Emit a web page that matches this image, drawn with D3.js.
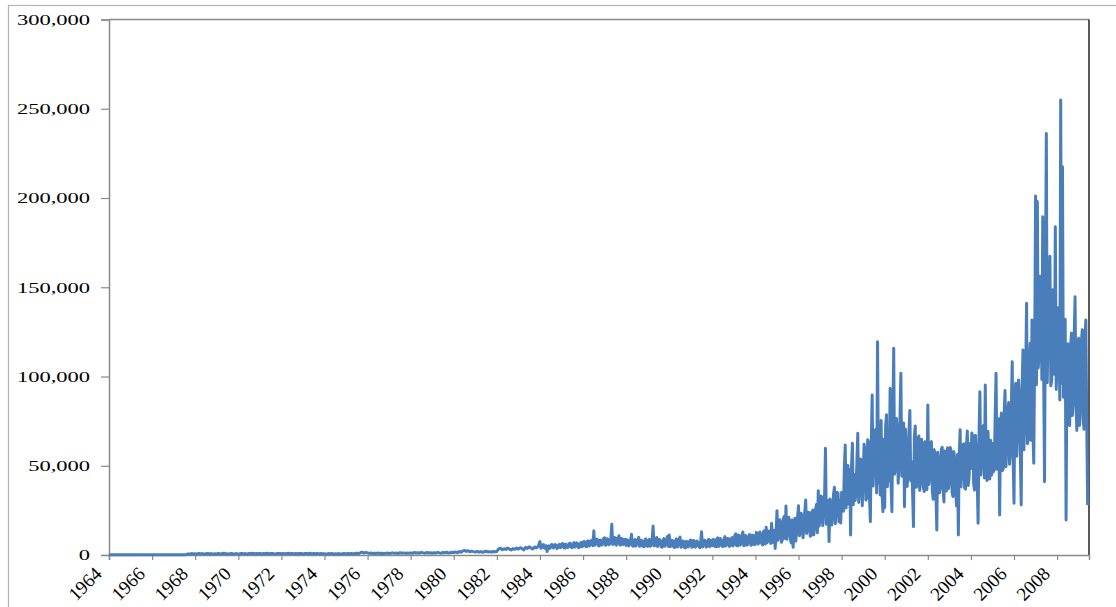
<!DOCTYPE html>
<html>
<head>
<meta charset="utf-8">
<script src="https://cdn.jsdelivr.net/npm/d3@7"></script>
<style>
  body { margin: 0; background: #ffffff; }
  svg { display: block; }
</style>
</head>
<body>
<svg id="chart" width="1116" height="607"></svg>
<script>
// Monthly series from January 1964, values in thousands
const startYear = 1964;

const thousands1964to1973 = [
  0.1,0.1,0.1,0.1,0.1,0.1,0.1,0.1,0.1,0.1,0.1,0.1,
  0.1,0.1,0.1,0.1,0.1,0.1,0.1,0.1,0.1,0.1,0.1,0.1,
  0.1,0.1,0.1,0.1,0.2,0.1,0.1,0.1,0.2,0.1,0.1,0.1,
  0.1,0.2,0.1,0.1,0.2,0.1,0.2,0.3,0.6,0.5,0.8,0.6,
  0.7,0.5,0.9,0.6,0.8,0.5,0.7,0.9,0.6,0.8,0.5,0.7,
  0.6,0.9,0.5,0.8,1.0,0.6,0.7,0.5,0.9,0.7,0.6,0.8,
  0.5,0.7,0.9,0.6,0.8,0.5,0.9,0.7,1.0,0.6,0.8,0.7,
  0.9,0.6,0.8,0.7,1.0,0.6,0.8,0.9,0.6,0.7,0.9,0.8,
  0.7,0.9,0.6,0.8,1.0,0.7,0.9,0.6,0.8,0.7,0.9,0.8,
  0.6,0.8,0.9,0.7,1.0,0.6,0.8,0.7,0.9,0.6,0.8,0.7
];

const thousands1974to1983 = [
  0.7,0.5,0.8,0.6,0.9,0.4,0.7,0.6,0.8,0.5,0.7,0.9,
  0.6,0.8,0.7,0.9,0.6,0.8,1.0,0.7,1.3,1.6,1.1,1.5,
  1.2,0.9,1.1,0.8,1.0,0.9,1.1,0.8,1.0,0.7,0.9,1.1,
  0.8,1.0,1.2,0.9,1.1,0.8,1.3,1.0,1.2,0.9,1.1,1.0,
  1.2,0.9,1.4,1.1,1.3,1.0,1.5,1.2,1.0,1.4,1.1,1.3,
  1.0,1.3,1.1,1.5,1.2,1.0,1.4,1.2,1.6,1.1,1.3,1.5,
  1.4,1.7,1.3,1.9,1.6,2.3,2.6,2.0,2.4,1.8,2.2,1.9,
  1.7,2.0,1.6,1.9,1.5,1.8,2.1,1.7,1.9,1.6,2.0,1.8,
  2.0,3.4,3.8,2.9,3.5,3.1,3.9,3.3,2.8,3.6,3.2,3.9,
  3.3,4.1,3.6,2.9,4.3,3.7,4.6,3.9,3.4,4.5,4.0,4.8
];

const thousands1984to1993 = [
  7.5,4.2,5.9,3.6,2.0,5.1,4.3,5.8,4.6,5.5,3.9,6.0,
  4.5,6.2,3.8,5.6,4.8,6.5,4.1,6.9,5.0,6.3,4.4,7.1,
  5.2,7.4,4.6,7.9,5.8,8.3,13.6,6.4,8.6,5.1,8.2,6.7,
  9.6,5.9,8.8,6.7,17.2,6.2,9.5,7.1,10.8,5.6,8.9,7.0,
  5.3,8.1,6.2,11.6,4.9,8.7,6.6,9.9,5.1,7.6,4.6,9.0,
  4.8,8.8,6.0,16.2,5.3,9.8,6.4,8.1,4.4,9.2,5.7,10.4,
  11.2,5.1,7.8,4.2,9.0,5.8,10.1,4.7,7.6,4.0,7.3,5.5,
  8.4,4.5,7.9,5.3,7.1,4.1,13.0,5.7,8.2,4.9,8.8,6.1,
  5.2,8.5,4.6,9.6,5.6,8.0,4.8,10.3,6.0,9.1,5.3,9.8,
  6.2,11.8,5.1,10.6,6.6,12.9,5.4,10.1,7.0,11.4,5.8,10.9
];

const thousands1994to2003 = [
  6.3,12.2,7.4,11.0,5.6,13.5,15.5,8.2,12.6,17.8,9.4,3.7,
  24.8,10.5,18.2,8.6,21.5,27.4,12.8,19.4,6.7,4.3,20.6,14.2,
  27.6,12.5,21.3,16.0,30.8,14.6,23.7,10.9,25.2,17.4,28.3,36.0,
  20.6,32.4,24.1,59.8,18.0,7.5,29.5,22.8,38.0,26.3,34.7,30.1,
  35.2,24.6,61.6,40.8,28.5,11.2,62.6,45.3,33.9,68.2,38.4,52.1,
  44.6,58.3,31.9,63.4,18.7,89.6,52.2,70.5,119.5,62.8,75.4,24.3,
  26.5,78.6,62.5,93.4,24.3,115.8,48.6,68.9,52.7,101.8,58.3,27.0,
  60.8,45.2,81.0,52.4,15.9,72.3,38.5,66.7,42.1,61.5,35.6,58.4,
  84.0,44.3,63.5,31.2,56.8,14.0,52.6,38.9,60.3,29.7,47.5,60.1,
  41.6,58.2,32.8,52.4,27.5,11.2,70.1,48.7,62.3,36.9,69.5,43.8
];

const thousands2004to2009 = [
  48.5,66.2,36.4,58.9,17.8,91.5,52.3,72.6,95.2,41.7,55.8,64.3,
  62.4,47.6,101.8,55.4,22.4,79.5,48.3,92.1,61.7,85.4,58.2,108.3,
  29.0,96.2,72.4,88.5,28.0,114.8,76.3,141.0,65.2,118.6,131.6,51.4,
  201.1,198.0,112.6,150.4,189.5,41.1,236.2,128.4,167.3,97.8,142.6,183.9,
  108.3,124.6,254.9,217.5,96.4,19.6,118.4,72.5,124.3,86.2,144.7,69.8,
  121.5,84.7,126.2,70.4,131.6,28.0
];

// Mid-month readings (thousands), January 1984 through May 2009
const midMonth1984to1993 = [
  3.8,5.6,3.9,5.2,4.8,3.7,5.9,3.9,5.8,3.6,5.7,4.1,
  6.4,4.0,6.1,4.2,6.6,4.3,6.2,4.5,6.8,4.1,6.5,4.6,
  7.6,4.8,7.8,5.0,8.1,5.2,5.4,8.9,5.3,8.4,5.6,9.3,
  5.4,9.1,5.8,9.4,5.9,9.8,5.5,9.6,5.7,9.2,5.9,8.8,
  8.6,5.1,8.4,5.3,8.2,5.0,8.7,4.9,8.3,4.8,8.5,5.2,
  8.2,4.9,8.6,5.1,8.4,4.7,8.8,4.6,8.1,4.9,8.5,4.8,
  4.6,8.3,4.4,8.0,4.5,8.2,4.3,7.9,4.2,7.7,4.5,8.1,
  4.3,8.1,4.4,7.8,4.6,7.9,4.5,8.3,4.4,8.0,4.7,8.2,
  8.7,4.8,9.0,4.7,9.2,4.9,8.8,5.0,9.3,4.8,9.1,5.1,
  10.8,5.3,11.2,5.5,11.0,5.2,10.9,5.6,11.3,5.4,11.1,5.7
];

const midMonth1994to2003 = [
  12.6,6.1,12.9,6.4,13.2,6.2,6.8,13.4,6.5,7.0,13.8,12.5,
  8.2,19.8,7.1,20.4,9.3,8.8,21.2,8.4,19.6,18.3,7.8,21.6,
  10.8,23.4,9.6,24.8,12.1,23.9,10.5,24.2,11.3,25.6,12.4,16.2,
  33.1,16.4,32.8,17.2,30.6,31.4,16.8,34.2,17.5,35.1,18.6,17.9,
  24.8,48.6,26.3,50.2,47.9,49.4,28.1,30.5,52.6,29.4,53.8,27.6,
  62.1,30.8,64.5,33.2,60.8,38.6,68.4,34.7,40.2,33.6,35.1,64.8,
  72.4,38.2,41.5,40.6,71.8,45.3,76.5,40.2,77.6,44.1,73.9,70.6,
  38.4,68.7,41.6,35.8,66.2,37.9,65.4,36.2,64.8,38.1,63.5,36.6,
  39.5,62.8,36.1,58.9,35.4,57.6,34.8,59.2,36.5,58.3,35.9,37.2,
  60.2,35.1,57.8,36.4,56.3,55.9,38.2,61.4,37.5,60.7,38.9,62.5
];

const midMonth2004to2009 = [
  68.4,40.2,67.1,42.5,66.3,44.8,70.6,43.1,45.9,69.2,42.6,44.7,
  46.5,77.8,48.1,76.4,72.9,47.2,78.6,49.5,80.3,50.8,82.1,54.6,
  92.4,55.3,98.1,57.8,94.6,58.9,101.5,62.4,104.2,64.3,70.8,112.5,
  95.4,104.8,156.2,98.3,102.6,152.8,96.5,151.4,94.8,148.6,101.2,92.7,
  138.5,86.9,96.2,88.4,132.1,110.6,74.3,116.8,78.2,121.5,84.6,118.2,
  72.6,118.9,76.1,122.4,74.8
];

const yTickValues = [0, 50000, 100000, 150000, 200000, 250000, 300000];
const xTickYears = d3.range(1964, 2009, 2);

const monthly = [].concat(
  thousands1964to1973, thousands1974to1983, thousands1984to1993,
  thousands1994to2003, thousands2004to2009
);
const midMonth = [].concat(midMonth1984to1993, midMonth1994to2003, midMonth2004to2009);
const midStart = (1984 - startYear) * 12;

const series = [];
monthly.forEach((v, i) => {
  const t = startYear + i / 12;
  series.push({ t, value: v * 1000 });
  const j = i - midStart;
  if (j >= 0 && j < midMonth.length) {
    series.push({ t: t + 1 / 24, value: midMonth[j] * 1000 });
  }
});

const svg = d3.select("#chart");
const plot = { left: 109, right: 1089, top: 19.5, bottom: 555 };
const serif = "'Liberation Serif', 'Times New Roman', serif";

const x = d3.scaleLinear().domain([1964, 2009.48]).range([plot.left, plot.right]);
const y = d3.scaleLinear().domain([0, 300000]).range([plot.bottom, plot.top]);

// outer frame
svg.append("rect")
  .attr("x", 8.5).attr("y", 5.5)
  .attr("width", 1120).attr("height", 620)
  .attr("fill", "none").attr("stroke", "#b4b4b4").attr("stroke-width", 1.2);

// plot border: top gray, right dark
svg.append("line")
  .attr("x1", plot.left).attr("x2", plot.right)
  .attr("y1", plot.top).attr("y2", plot.top)
  .attr("stroke", "#8a8a8a").attr("stroke-width", 1.5);
svg.append("line")
  .attr("x1", plot.right).attr("x2", plot.right)
  .attr("y1", plot.top).attr("y2", plot.bottom)
  .attr("stroke", "#222").attr("stroke-width", 1.5);

// y axis
const yAxis = d3.axisLeft(y).tickValues(yTickValues).tickSize(8).tickFormat("");
const gy = svg.append("g").attr("transform", `translate(${plot.left},0)`).call(yAxis);
gy.select(".domain").attr("stroke", "#8a8a8a").attr("stroke-width", 1.5);
gy.selectAll(".tick line").attr("stroke", "#8a8a8a").attr("stroke-width", 1.2);

const fmt = d3.format(",");
svg.append("g").selectAll("text")
  .data(yTickValues)
  .join("text")
  .attr("transform", d => `translate(90,${y(d)}) scale(1.5,1)`)
  .attr("text-anchor", "end")
  .attr("dy", "0.35em")
  .style("font-family", serif)
  .style("font-size", "15px")
  .attr("fill", "#000")
  .text(d => fmt(d));

// x axis
const xAxis = d3.axisBottom(x).tickValues(xTickYears).tickSize(5).tickFormat("");
const gx = svg.append("g").attr("transform", `translate(0,${plot.bottom})`).call(xAxis);
gx.select(".domain").attr("stroke", "#8a8a8a").attr("stroke-width", 1.5);
gx.selectAll(".tick line").attr("stroke", "#8a8a8a").attr("stroke-width", 1.2);

svg.append("g").selectAll("text")
  .data(xTickYears)
  .join("text")
  .attr("transform", d => `translate(${x(d) - 6},${plot.bottom + 20}) rotate(-45)`)
  .attr("text-anchor", "end")
  .style("font-family", serif)
  .style("font-size", "19px")
  .attr("fill", "#000")
  .text(d => String(d));

// series line
const line = d3.line().x(d => x(d.t)).y(d => y(d.value));
svg.append("path")
  .datum(series)
  .attr("fill", "none")
  .attr("stroke", "#4a7ebb")
  .attr("stroke-width", 3)
  .attr("stroke-linejoin", "round")
  .attr("d", line);
</script>
</body>
</html>
